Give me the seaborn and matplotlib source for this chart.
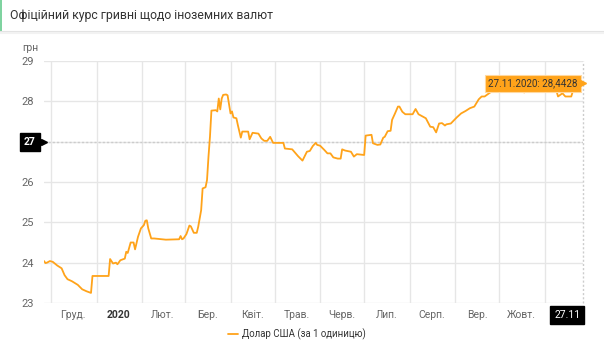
import matplotlib
matplotlib.use("Agg")
import matplotlib.pyplot as plt
from matplotlib.lines import Line2D
from matplotlib.patches import Rectangle
import seaborn as sns
import pandas as pd

# ---- data ----
dates = [
    "2019-11-26", "2019-11-27", "2019-11-28", "2019-11-30", "2019-12-02", "2019-12-05", "2019-12-08",
    "2019-12-10", "2019-12-12", "2019-12-15", "2019-12-19", "2019-12-22", "2019-12-25", "2019-12-28",
    "2019-12-29", "2020-01-09", "2020-01-10", "2020-01-12", "2020-01-14", "2020-01-15", "2020-01-17",
    "2020-01-20", "2020-01-21", "2020-01-22", "2020-01-24", "2020-01-26", "2020-01-27", "2020-01-29",
    "2020-01-31", "2020-02-02", "2020-02-03", "2020-02-04", "2020-02-05", "2020-02-07", "2020-02-09",
    "2020-02-17", "2020-02-26", "2020-02-27", "2020-02-28", "2020-02-29", "2020-03-02", "2020-03-04",
    "2020-03-05", "2020-03-07", "2020-03-09", "2020-03-10", "2020-03-12", "2020-03-13", "2020-03-15",
    "2020-03-16", "2020-03-17", "2020-03-18", "2020-03-19", "2020-03-22", "2020-03-23", "2020-03-24",
    "2020-03-25", "2020-03-26", "2020-03-27", "2020-03-29", "2020-03-30", "2020-04-01", "2020-04-02",
    "2020-04-03", "2020-04-05", "2020-04-06", "2020-04-08", "2020-04-09", "2020-04-13", "2020-04-14",
    "2020-04-16", "2020-04-20", "2020-04-22", "2020-04-24", "2020-04-26", "2020-04-28", "2020-04-30",
    "2020-05-07", "2020-05-08", "2020-05-13", "2020-05-17", "2020-05-20", "2020-05-23", "2020-05-25",
    "2020-05-27", "2020-05-29", "2020-05-30", "2020-06-01", "2020-06-04", "2020-06-06", "2020-06-08",
    "2020-06-10", "2020-06-13", "2020-06-15", "2020-06-16", "2020-06-18", "2020-06-22", "2020-06-24",
    "2020-06-26", "2020-07-01", "2020-07-02", "2020-07-06", "2020-07-07", "2020-07-10", "2020-07-12",
    "2020-07-14", "2020-07-15", "2020-07-17", "2020-07-19", "2020-07-20", "2020-07-22", "2020-07-24",
    "2020-07-25", "2020-07-27", "2020-07-29", "2020-08-03", "2020-08-05", "2020-08-07", "2020-08-10",
    "2020-08-12", "2020-08-15", "2020-08-17", "2020-08-19", "2020-08-21", "2020-08-23", "2020-08-25",
    "2020-08-26", "2020-08-29", "2020-09-02", "2020-09-05", "2020-09-08", "2020-09-11", "2020-09-14",
    "2020-09-17", "2020-09-19", "2020-09-21", "2020-09-24", "2020-09-26", "2020-10-01", "2020-10-08",
    "2020-10-15", "2020-10-18", "2020-10-22", "2020-10-28", "2020-11-02", "2020-11-06", "2020-11-09",
    "2020-11-10", "2020-11-13", "2020-11-15", "2020-11-19", "2020-11-20", "2020-11-24", "2020-11-27",
]
usd_rate = [
    24.04, 23.99, 24.00, 24.04, 24.02, 23.93, 23.86,
    23.69, 23.59, 23.54, 23.45, 23.34, 23.29, 23.25,
    23.67, 23.67, 24.09, 23.98, 24.00, 23.96, 24.06,
    24.10, 24.27, 24.24, 24.50, 24.50, 24.33, 24.64,
    24.85, 24.93, 25.04, 25.05, 24.85, 24.60, 24.60,
    24.57, 24.58, 24.66, 24.58, 24.60, 24.71, 24.92,
    24.90, 24.74, 24.74, 24.89, 25.30, 25.84, 25.87,
    26.05, 26.63, 27.12, 27.77, 27.78, 27.75, 28.07,
    27.80, 28.07, 28.16, 28.17, 28.15, 27.70, 27.75,
    27.60, 27.58, 27.41, 27.10, 27.25, 27.25, 27.06,
    27.22, 27.20, 27.08, 27.02, 27.02, 27.12, 26.97,
    26.97, 26.83, 26.81, 26.64, 26.53, 26.75, 26.77,
    26.89, 26.97, 26.92, 26.90, 26.79, 26.71, 26.71,
    26.61, 26.58, 26.58, 26.81, 26.78, 26.75, 26.63,
    26.69, 26.67, 27.15, 27.17, 26.96, 26.92, 26.93,
    27.10, 27.12, 27.26, 27.27, 27.54, 27.70, 27.87,
    27.87, 27.74, 27.68, 27.68, 27.81, 27.68, 27.62,
    27.58, 27.37, 27.36, 27.23, 27.45, 27.46, 27.40,
    27.43, 27.45, 27.60, 27.70, 27.76, 27.83, 27.87,
    28.05, 28.12, 28.12, 28.20, 28.25, 28.30, 28.35,
    28.28, 28.22, 28.40, 28.50, 28.40, 28.35, 28.25,
    28.12, 28.20, 28.12, 28.12, 28.24, 28.35, 28.4428,
]
series_label = "Долар США (за 1 одиницю)"
title_text = "Офіційний курс гривні щодо іноземних валют"
y_unit = "грн"
y_ticks = [23, 24, 25, 26, 27, 28, 29]
month_labels = ["Груд.", "2020", "Лют.", "Бер.", "Квіт.", "Трав.", "Черв.",
                "Лип.", "Серп.", "Вер.", "Жовт."]
month_label_dates = ["2019-12-16", "2020-01-16", "2020-02-15", "2020-03-16", "2020-04-16",
                     "2020-05-16", "2020-06-16", "2020-07-16", "2020-08-16", "2020-09-16",
                     "2020-10-16"]
month_starts = ["2019-12-01", "2020-01-01", "2020-02-01", "2020-03-01", "2020-04-01",
                "2020-05-01", "2020-06-01", "2020-07-01", "2020-08-01", "2020-09-01",
                "2020-10-01", "2020-11-01"]
crosshair_y = 27
tooltip_text = "27.11.2020: 28,4428"
end_label = "27.11"

df = pd.DataFrame({"date": pd.to_datetime(dates), "rate": usd_rate})

# ---- figure ----
sns.set_style("white")
plt.rcParams["font.family"] = ["Roboto", "DejaVu Sans"]

W, H = 604, 350
fig = plt.figure(figsize=(W / 100, H / 100), dpi=100)

def fx(px):
    return px / W

def fy(py):
    return 1 - py / H

ax = fig.add_axes([fx(44), fy(303), fx(583) - fx(44), fy(61) - fy(303)])

line_color = "#ffa31a"
sns.lineplot(data=df, x="date", y="rate", ax=ax, color=line_color, linewidth=1.3,
             label=series_label, zorder=3)

x_start = pd.Timestamp("2019-11-26")
x_end = pd.Timestamp("2020-11-27")
ax.set_xlim(x_start, x_end)
ax.set_ylim(23, 29)

# grid
ax.set_yticks(y_ticks)
ax.set_yticklabels([str(t) if t != crosshair_y else "" for t in y_ticks])
ax.set_xticks(pd.to_datetime(month_label_dates))
ax.set_xticklabels(month_labels)
ax.set_xticks(pd.to_datetime(month_starts), minor=True)
ax.grid(False)
ax.grid(axis="y", which="major", color="#e6e6e6", linewidth=1)
ax.grid(axis="x", which="minor", color="#e6e6e6", linewidth=1)
ax.tick_params(axis="both", which="both", length=0)
ax.tick_params(axis="y", labelsize=8, labelcolor="#666666", pad=7)
ax.tick_params(axis="x", labelsize=7.5, labelcolor="#666666", pad=5)
for lbl in ax.get_xticklabels():
    if lbl.get_text() == "2020":
        lbl.set_fontweight("bold")
        lbl.set_color("#333333")
for s in ax.spines.values():
    s.set_visible(False)
ax.set_xlabel("")
ax.set_ylabel("")

# crosshairs
ax.axhline(crosshair_y, color="#cccccc", linestyle=(0, (1.5, 1.5)), linewidth=1, zorder=2)
ax.axvline(x_end, color="#cccccc", linestyle=(0, (1.5, 1.5)), linewidth=1, zorder=2,
           clip_on=False)

# y crosshair label
ax.annotate(str(crosshair_y), xy=(0, crosshair_y), xycoords=("axes fraction", "data"),
            xytext=(-6, 0), textcoords="offset points", ha="right", va="center",
            fontsize=7.5, fontweight="bold", color="white",
            bbox=dict(boxstyle="square,pad=0.4", fc="black", ec="black"),
            annotation_clip=False, zorder=6)
ax.plot([0], [crosshair_y], marker=">", color="black", markersize=4,
        transform=ax.get_yaxis_transform(), clip_on=False, zorder=6)

# x crosshair label
ax.annotate(end_label, xy=(x_end, 0), xycoords=("data", "axes fraction"),
            xytext=(-2, -5), textcoords="offset points", ha="right", va="top",
            fontsize=7.5, color="white",
            bbox=dict(boxstyle="square,pad=0.35", fc="black", ec="black"),
            annotation_clip=False, zorder=6)

# tooltip
ax.annotate(tooltip_text, xy=(x_end, usd_rate[-1]), xytext=(-4, 0),
            textcoords="offset points", ha="right", va="center", fontsize=7,
            color="#333333",
            bbox=dict(boxstyle="square,pad=0.35", fc=line_color, ec="#ffd9a0", lw=0.8),
            annotation_clip=False, zorder=7)
ax.plot([x_end], [usd_rate[-1]], marker=">", color=line_color, markersize=4,
        clip_on=False, zorder=7)

# legend
leg = ax.legend(loc="center", bbox_to_anchor=(fx(297), fy(334)),
                bbox_transform=fig.transFigure, frameon=False, fontsize=6.9,
                handlelength=1.1, handletextpad=0.4)
for t in leg.get_texts():
    t.set_color("#333333")

# header
fig.text(fx(10), fy(16), title_text, fontsize=8.8, color="#333333", ha="left", va="center")
fig.add_artist(Rectangle((0, fy(31)), fx(2), fy(0) - fy(31), transform=fig.transFigure,
                         color="#7fd3a0", lw=0))
fig.add_artist(Line2D([0, 1], [fy(31.5), fy(31.5)], transform=fig.transFigure,
                      color="#e3e3e3", lw=1.5))
fig.add_artist(Line2D([0, 1], [fy(33), fy(33)], transform=fig.transFigure,
                      color="#f2f2f2", lw=1.5))
fig.text(fx(22), fy(48), y_unit, fontsize=7.5, color="#666666", ha="left", va="center")

fig.savefig("out.png", dpi=100)
